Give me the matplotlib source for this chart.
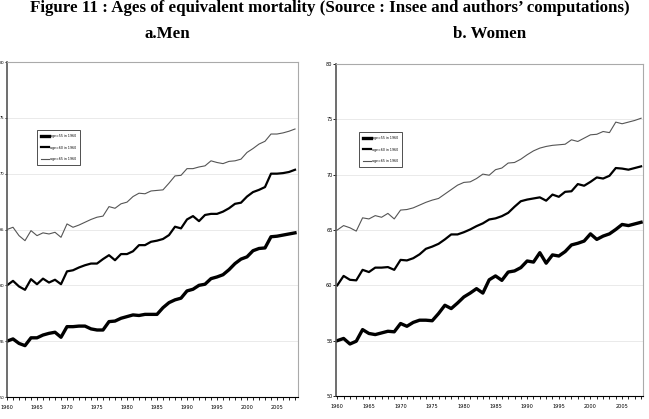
import numpy as np
import matplotlib
matplotlib.use("Agg")
import matplotlib.pyplot as plt

years = list(range(1960, 2009))

men_55 = [55.0, 55.2, 54.8, 54.6, 55.3, 55.3, 55.55, 55.7, 55.8, 55.35,
          56.3, 56.3, 56.35, 56.35, 56.1, 56.0, 56.0, 56.75, 56.8, 57.05,
          57.2, 57.35, 57.3, 57.4, 57.4, 57.4, 58.0, 58.45, 58.7, 58.85,
          59.5, 59.65, 60.0, 60.1, 60.6, 60.75, 60.95, 61.4, 61.95, 62.35,
          62.55, 63.1, 63.3, 63.35, 64.35, 64.4, 64.5, 64.6, 64.7]
men_60 = [60.0, 60.4, 59.9, 59.6, 60.55, 60.1, 60.6, 60.25, 60.5, 60.1,
          61.25, 61.35, 61.6, 61.8, 61.95, 61.95, 62.35, 62.7, 62.25, 62.8,
          62.8, 63.05, 63.6, 63.6, 63.9, 64.0, 64.15, 64.5, 65.25, 65.1,
          65.9, 66.2, 65.75, 66.3, 66.4, 66.4, 66.6, 66.9, 67.3, 67.4,
          67.95, 68.35, 68.55, 68.8, 70.0, 70.0, 70.05, 70.15, 70.35]
men_65 = [65.0, 65.2, 64.45, 64.0, 64.9, 64.45, 64.7, 64.6, 64.75, 64.3,
          65.5, 65.2, 65.4, 65.65, 65.9, 66.1, 66.2, 67.05, 66.9, 67.3,
          67.45, 67.95, 68.25, 68.2, 68.45, 68.5, 68.55, 69.15, 69.8, 69.85,
          70.45, 70.45, 70.6, 70.7, 71.15, 71.0, 70.9, 71.1, 71.15, 71.3,
          71.9, 72.25, 72.65, 72.9, 73.55, 73.55, 73.65, 73.8, 74.0]

women_55 = [55.0, 55.2, 54.7, 54.95, 56.0, 55.65, 55.55, 55.7, 55.85, 55.8,
            56.55, 56.3, 56.65, 56.85, 56.85, 56.8, 57.45, 58.2, 57.9, 58.4,
            58.95, 59.3, 59.7, 59.3, 60.5, 60.85, 60.45, 61.2, 61.3, 61.6,
            62.2, 62.1, 62.95, 62.0, 62.75, 62.65, 63.05, 63.65, 63.8, 64.0,
            64.65, 64.15, 64.45, 64.65, 65.05, 65.5, 65.4, 65.55, 65.7]
women_60 = [60.0, 60.85, 60.5, 60.45, 61.4, 61.2, 61.6, 61.6, 61.65, 61.4,
            62.3, 62.25, 62.45, 62.8, 63.3, 63.5, 63.75, 64.15, 64.6, 64.6,
            64.8, 65.05, 65.35, 65.6, 65.95, 66.05, 66.25, 66.55, 67.1, 67.6,
            67.75, 67.85, 67.95, 67.65, 68.2, 68.0, 68.45, 68.5, 69.15, 69.0,
            69.35, 69.75, 69.65, 69.9, 70.6, 70.55, 70.45, 70.6, 70.75]
women_65 = [65.0, 65.4, 65.2, 64.9, 66.1, 66.0, 66.3, 66.15, 66.5, 66.0,
            66.8, 66.85, 67.0, 67.25, 67.5, 67.7, 67.85, 68.25, 68.65, 69.05,
            69.3, 69.35, 69.65, 70.05, 69.95, 70.45, 70.6, 71.05, 71.1, 71.4,
            71.8, 72.15, 72.4, 72.55, 72.65, 72.7, 72.75, 73.15, 73.0, 73.3,
            73.6, 73.65, 73.9, 73.8, 74.75, 74.6, 74.75, 74.9, 75.1]

labels = ["age=55 in 1960", "age=60 in 1960", "age=65 in 1960"]
year_labels = list(range(1960, 2006, 5))
y_ticks = [50, 55, 60, 65, 70, 75, 80]

W, H = 649, 419
fig = plt.figure(figsize=(W / 100, H / 100), dpi=100)

def fx(px):
    return px / W

def fy(py):
    return 1 - py / H

styles = [dict(color="black", lw=2.4), dict(color="black", lw=1.6), dict(color="#555555", lw=0.8)]

def make_panel(rect, series, xlim, leg_anchor, ytick_fs, ytick_len):
    ax = fig.add_axes(rect)
    for s, st, lab in zip(series, styles, labels):
        ax.plot(years, s, label=lab, **st)
    ax.set_xlim(*xlim)
    ax.set_ylim(50, 80)
    ax.set_yticks(y_ticks)
    ax.set_yticklabels([str(v) for v in y_ticks], fontsize=ytick_fs)
    ax.set_xticks(years, minor=True)
    ax.set_xticks(year_labels)
    ax.set_xticklabels([str(v) for v in year_labels], fontsize=3.6)
    ax.tick_params(axis="x", which="both", direction="out", length=2, width=0.6, pad=4, color="black")
    ax.tick_params(axis="y", direction="out", length=ytick_len, width=0.6, pad=0.5, color="black")
    ax.grid(axis="y", color="#e6e6e6", lw=0.6)
    ax.set_axisbelow(True)
    for side in ["top", "right"]:
        ax.spines[side].set_color("#aaaaaa")
        ax.spines[side].set_linewidth(0.8)
    ax.spines["left"].set_color("#555555")
    ax.spines["left"].set_linewidth(1.2)
    ax.spines["bottom"].set_color("black")
    ax.spines["bottom"].set_linewidth(0.8)
    leg = ax.legend(loc="upper left", bbox_to_anchor=leg_anchor, fontsize=2.3,
                    frameon=True, fancybox=False, edgecolor="black",
                    handlelength=2.6, borderpad=1.2, labelspacing=2.4,
                    handletextpad=0.3, borderaxespad=0)
    leg.get_frame().set_linewidth(0.6)
    return ax

ax1 = make_panel([fx(7), fy(397), fx(298 - 7), (397 - 62) / H],
                 [men_55, men_60, men_65], (1960, 2008.5),
                 (30 / 291, (397 - 130) / (397 - 62)), 2.6, 1.5)
ax2 = make_panel([fx(336), fy(396), fx(643 - 336), (396 - 64) / H],
                 [women_55, women_60, women_65], (1959.8, 2008.3),
                 (23 / 307, (396 - 132) / (396 - 64)), 3.6, 2)

fig.text(fx(330), fy(8), "Figure 11 : Ages of equivalent mortality (Source : Insee and authors\u2019 computations)",
         ha="center", va="center", fontsize=12.2, fontweight="bold", family="Liberation Serif")
fig.text(fx(167), fy(34), "a.Men", ha="center", va="center", fontsize=12.2,
         fontweight="bold", family="Liberation Serif")
fig.text(fx(490), fy(34), "b. Women", ha="center", va="center", fontsize=12.2,
         fontweight="bold", family="Liberation Serif")

fig.savefig("out.png", dpi=100)
